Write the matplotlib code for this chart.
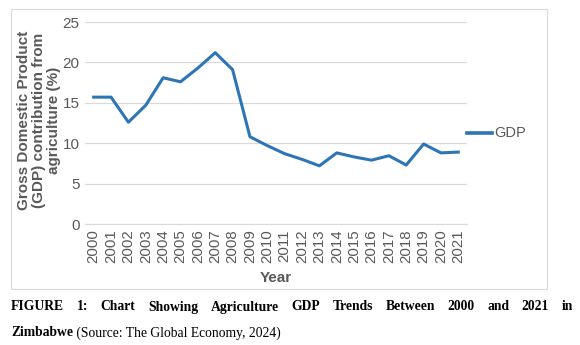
import matplotlib
matplotlib.use("Agg")
import matplotlib.pyplot as plt
from matplotlib.patches import Rectangle

years = [str(y) for y in range(2000, 2022)]
gdp = [15.7, 15.7, 12.6, 14.7, 18.1, 17.6, 19.3, 21.2, 19.1, 10.8, 9.7,
       8.7, 8.0, 7.2, 8.8, 8.3, 7.9, 8.45, 7.3, 9.9, 8.8, 8.9]
yticks = [0, 5, 10, 15, 20, 25]
series_name = "GDP"
ylabel = "Gross Domestic Product\n(GDP) contribution from\nagriculture (%)"
xlabel = "Year"
cap1_words = "FIGURE 1: Chart Showing Agriculture GDP Trends Between 2000 and 2021 in".split()
cap2_bold = "Zimbabwe"
cap2_rest = " (Source: The Global Economy, 2024)"

W, H = 580, 345
fig = plt.figure(figsize=(W / 100, H / 100), dpi=100)
fig.patch.set_facecolor("white")

def fx(px):
    return px / W

def fy(py):
    return 1 - py / H

# chart border
fig.patches.append(Rectangle((fx(11), fy(289)), fx(547) - fx(11), fy(9) - fy(289),
                             transform=fig.transFigure, fill=False,
                             edgecolor="#d9d9d9", linewidth=0.8))

ax = fig.add_axes([fx(85), fy(224), fx(467) - fx(85), fy(22) - fy(224)])
x = list(range(len(years)))
ax.plot(x, gdp, color="#2e75b6", linewidth=2.2, label=series_name)
ax.set_xlim(-0.5, len(years) - 0.5)
ax.set_ylim(0, 25)
ax.set_yticks(yticks)
ax.set_xticks(x)
ax.set_xticklabels(years, rotation=90, fontsize=10.8, color="#595959",
                   family="Liberation Sans")
ax.set_yticklabels([str(v) for v in yticks], fontsize=11, color="#595959",
                   family="Liberation Sans")
ax.tick_params(length=0, pad=4)
ax.grid(axis="y", color="#d9d9d9", linewidth=0.9)
ax.set_axisbelow(True)
for s in ["top", "right", "left"]:
    ax.spines[s].set_visible(False)
ax.spines["bottom"].set_color("#d9d9d9")

fig.text(fx(276), fy(278), xlabel, ha="center", va="center", fontsize=11,
         fontweight="bold", color="#595959", family="Liberation Sans")
fig.text(fx(39), fy(120), ylabel, ha="center", va="center", rotation=90,
         fontsize=11, fontweight="bold", color="#595959",
         family="Liberation Sans", linespacing=1.12, multialignment="center")

# legend
fig.lines.append(plt.Line2D([fx(467), fx(492)], [fy(133), fy(133)],
                            transform=fig.transFigure, color="#2e75b6", linewidth=2.6))
fig.text(fx(494), fy(133), series_name, ha="left", va="center", fontsize=10.5,
         color="#595959", family="Liberation Sans")

# caption
fig.canvas.draw()
r = fig.canvas.get_renderer()
cap_size = 9.8
texts = []
widths = []
for w in cap1_words:
    t = fig.text(0, fy(307), w, ha="left", va="center", fontsize=cap_size,
                 fontweight="bold", family="Liberation Serif", color="black")
    texts.append(t)
    widths.append(t.get_window_extent(r).width)
x0, x1 = 11, 573
gap = (x1 - x0 - sum(widths)) / (len(widths) - 1)
cur = x0
for t, wd in zip(texts, widths):
    t.set_x(fx(cur))
    cur += wd + gap

t2 = fig.text(fx(11), fy(333), cap2_bold, ha="left", va="center", fontsize=cap_size,
              fontweight="bold", family="Liberation Serif", color="black")
w2 = t2.get_window_extent(r).width
fig.text(fx(11 + w2), fy(333), cap2_rest, ha="left", va="center", fontsize=cap_size,
         family="Liberation Serif", color="black")

fig.savefig("out.png", dpi=100, facecolor="white")
